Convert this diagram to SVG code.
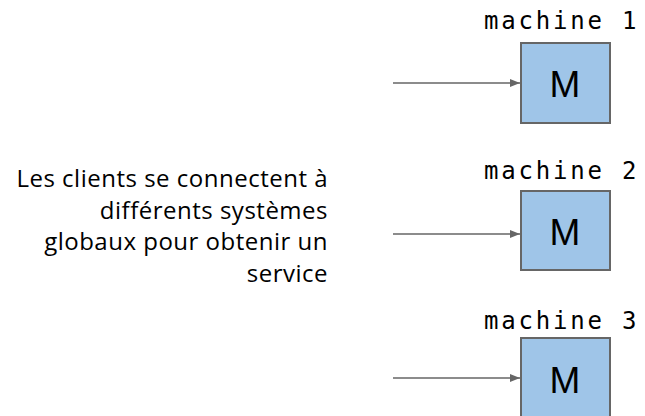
<svg xmlns="http://www.w3.org/2000/svg" width="645" height="416" viewBox="0 0 645 416">
<style>
.box{fill:#9fc5e8;stroke:#666666;stroke-width:2}
.m{font-family:"Liberation Sans",Arial,sans-serif;font-size:37px;fill:#000;text-anchor:middle}
.lab{font-family:"DejaVu Sans Mono",monospace;font-size:24px;fill:#000;letter-spacing:2.8px}
.desc{font-family:"Open Sans",sans-serif;font-size:24px;fill:#000;text-anchor:end;letter-spacing:0.5px}
.conn{stroke:#666666;stroke-width:1.5;fill:none}
</style>
<defs>
<marker id="arr" viewBox="0 0 10 8" refX="10" refY="4" markerWidth="10" markerHeight="8" markerUnits="userSpaceOnUse" orient="auto">
<path d="M0,0 L10,4 L0,8 Z" fill="#666666"/>
</marker>
</defs>
<g id="connectors">
<line class="conn" x1="393" y1="83" x2="520" y2="83" marker-end="url(#arr)"/>
<line class="conn" x1="393" y1="234" x2="520" y2="234" marker-end="url(#arr)"/>
<line class="conn" x1="393" y1="378" x2="520" y2="378" marker-end="url(#arr)"/>
</g>
<g id="machine1">
<text class="lab" x="484" y="29">machine 1</text>
<rect class="box" x="521" y="43" width="89" height="80"/>
<text class="m" x="565" y="97">M</text>
</g>
<g id="machine2">
<text class="lab" x="484" y="179">machine 2</text>
<rect class="box" x="521" y="191" width="89" height="79"/>
<text class="m" x="565" y="245">M</text>
</g>
<g id="machine3">
<text class="lab" x="484" y="329">machine 3</text>
<rect class="box" x="521" y="338" width="89" height="82"/>
<text class="m" x="565" y="393">M</text>
</g>
<g id="description">
<text class="desc" x="328" y="187">Les clients se connectent à</text>
<text class="desc" x="328" y="218.5">différents systèmes</text>
<text class="desc" x="328" y="250">globaux pour obtenir un</text>
<text class="desc" x="328" y="281.5">service</text>
</g>
</svg>
